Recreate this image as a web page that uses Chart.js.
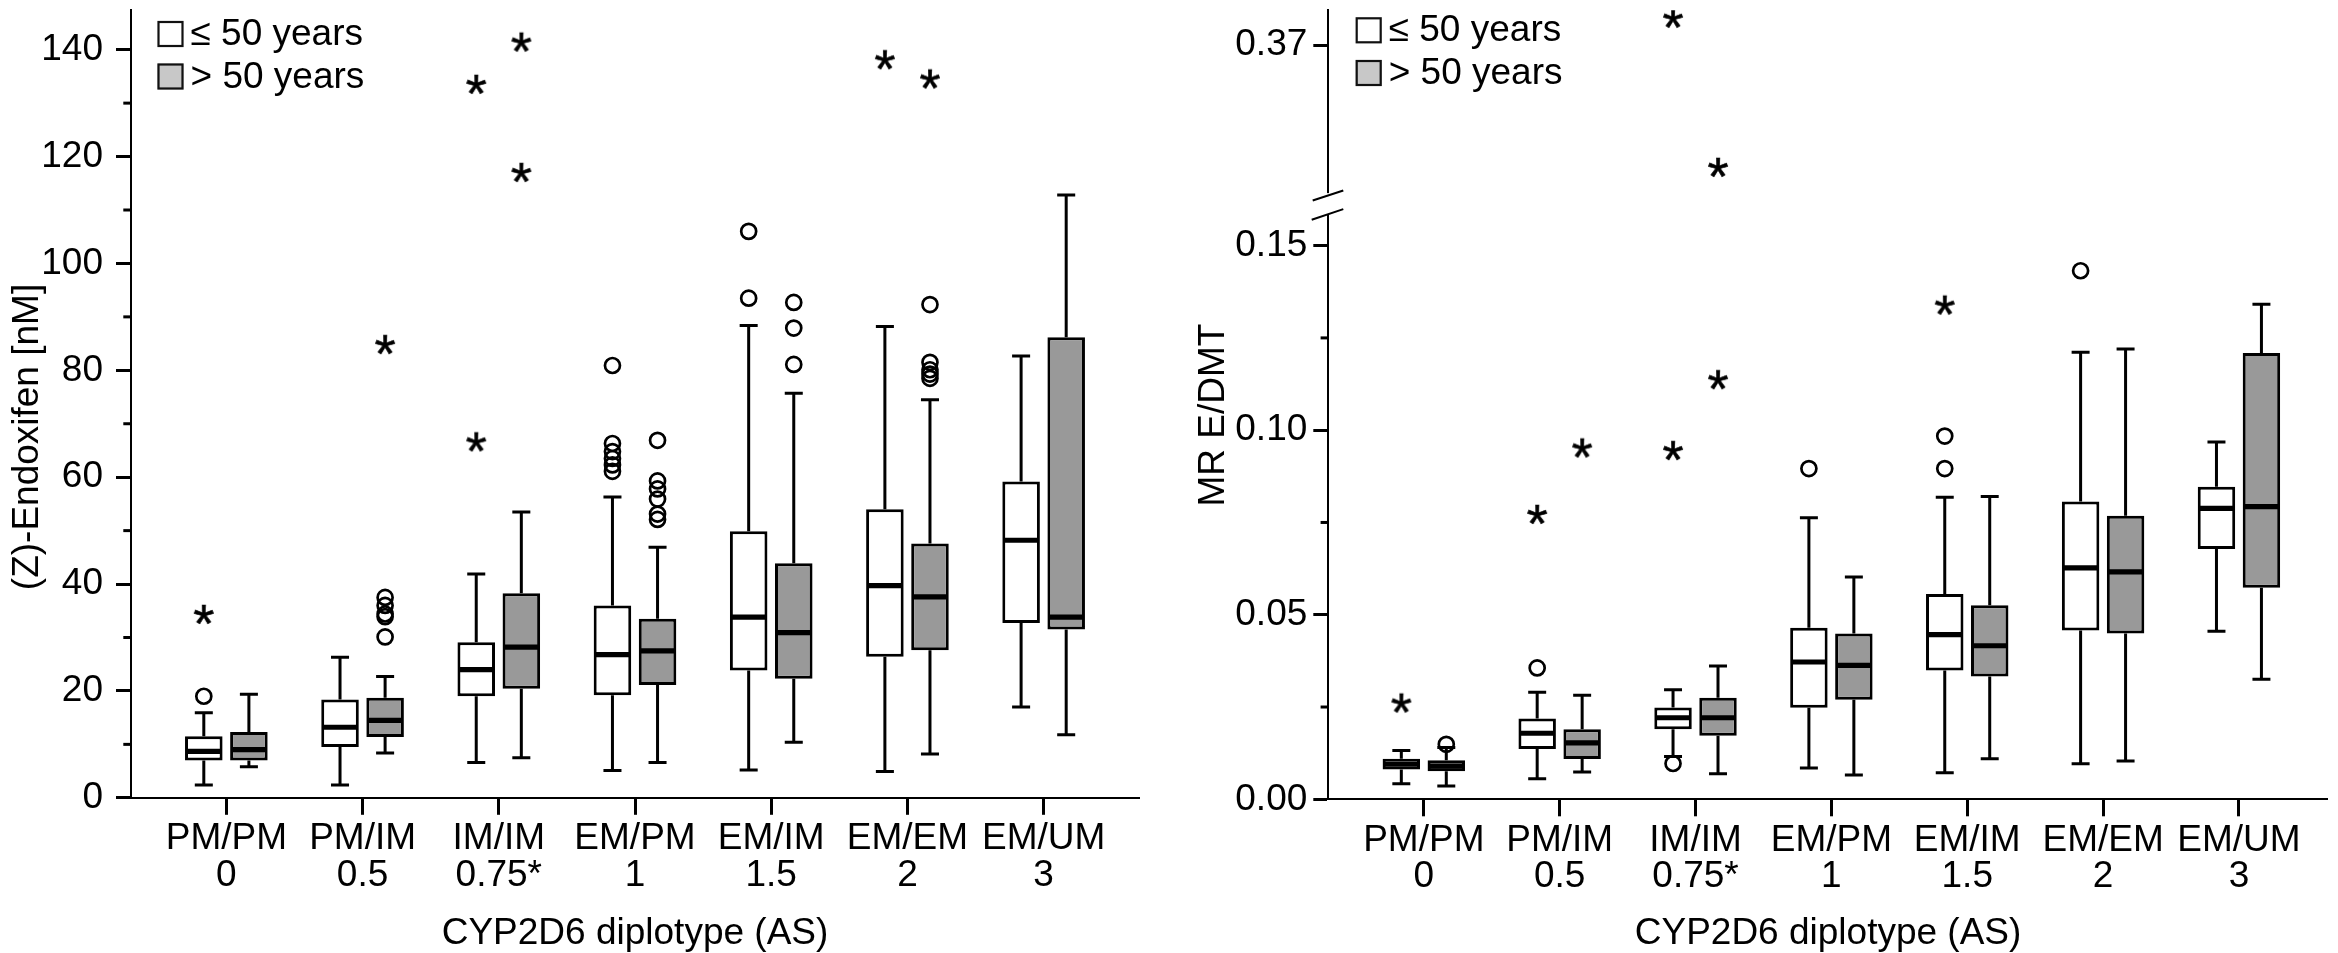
<!DOCTYPE html>
<html>
<head>
<meta charset="utf-8">
<script src="https://cdn.jsdelivr.net/npm/chart.js@4.4.1/dist/chart.umd.min.js"></script>
<style>
  html, body { margin: 0; padding: 0; background: #fff; }
  #wrap { position: relative; width: 2338px; height: 953px; }
  canvas { position: absolute; top: 0; width: 1169px; height: 953px; }
  #endoxifenChart { left: 0; }
  #ratioChart { left: 1169px; }
</style>
</head>
<body>
<div id="wrap">
  <canvas id="endoxifenChart" width="1169" height="953"></canvas>
  <canvas id="ratioChart" width="1169" height="953"></canvas>
</div>
<script>
const diplotypes     = ['PM/PM', 'PM/IM', 'IM/IM', 'EM/PM', 'EM/IM', 'EM/EM', 'EM/UM'];
const activityScores = ['0', '0.5', '0.75*', '1', '1.5', '2', '3'];
const ageGroups      = ['\u2264 50 years', '> 50 years'];

// per diplotype: [lower whisker, Q1, median, Q3, upper whisker]
const endoxifenYoung = [
  [2.4, 7.0, 8.7, 11.5, 15.9],
  [2.4, 9.5, 13.2, 18.4, 26.3],
  [6.6, 19.0, 24.0, 29.1, 41.9],
  [5.1, 19.2, 26.8, 36.0, 56.3],
  [5.2, 23.8, 33.8, 49.9, 88.4],
  [4.9, 26.4, 39.7, 54.0, 88.2],
  [17.0, 32.7, 48.2, 59.2, 82.7]
];
const endoxifenOld = [
  [5.8, 7.0, 9.0, 12.3, 19.4],
  [8.4, 11.4, 14.5, 18.7, 22.7],
  [7.5, 20.4, 28.2, 38.3, 53.5],
  [6.6, 21.1, 27.5, 33.5, 46.9],
  [10.4, 22.3, 30.9, 43.9, 75.7],
  [8.2, 27.6, 37.6, 47.6, 74.5],
  [11.8, 31.5, 33.8, 86.2, 112.8]
];
const endoxifenYoungOutliers = [[19.0], [], [], [61.1, 62.3, 63.5, 64.8, 66.3, 80.9], [93.5, 106.0], [], []];
const endoxifenYoungExtremes = [[34.4], [], [66.7, 133.6], [], [], [138.2], []];
const endoxifenOldOutliers   = [[], [30.1, 33.9, 34.4, 36.0, 37.5], [], [52.1, 53.1, 55.9, 57.8, 59.3, 66.9], [81.1, 87.9, 92.7], [78.5, 79.3, 80.1, 81.5, 92.3], []];
const endoxifenOldExtremes   = [[], [84.9], [117.1, 141.5], [], [], [134.6], []];
const endoxifenTicks      = [0, 20, 40, 60, 80, 100, 120, 140];
const endoxifenMinorTicks = [10, 30, 50, 70, 90, 110, 130];

const ratioYoung = [
  [0.0042, 0.0081, 0.0095, 0.0110, 0.0132],
  [0.0056, 0.0136, 0.0179, 0.0219, 0.0290],
  [0.0116, 0.0190, 0.0221, 0.0249, 0.0297],
  [0.0085, 0.0248, 0.0372, 0.0465, 0.0763],
  [0.0072, 0.0349, 0.0446, 0.0556, 0.0818],
  [0.0096, 0.0457, 0.0627, 0.0807, 0.1211],
  [0.0455, 0.0678, 0.0788, 0.0847, 0.0968]
];
const ratioOld = [
  [0.0036, 0.0076, 0.0090, 0.0106, 0.0140],
  [0.0074, 0.0109, 0.0153, 0.0190, 0.0282],
  [0.0069, 0.0172, 0.0221, 0.0275, 0.0361],
  [0.0066, 0.0270, 0.0363, 0.0449, 0.0602],
  [0.0110, 0.0333, 0.0416, 0.0526, 0.0820],
  [0.0104, 0.0449, 0.0616, 0.0768, 0.1220],
  [0.0325, 0.0573, 0.0793, 0.1209, 0.1341]
];
const ratioYoungOutliers = [[], [0.0356], [0.0097], [0.0896], [0.0896, 0.0984], [0.1432], []];
const ratioYoungExtremes = [[0.0262], [0.0773], [0.0946, 0.3774], [], [0.1340], [], []];
const ratioOldOutliers   = [[0.0149], [], [], [], [], [], []];
const ratioOldExtremes   = [[], [0.0953], [0.1138, 0.3370], [], [], [], []];
const ratioTicksLow      = [0, 0.05, 0.10, 0.15];
const ratioMinorTicksLow = [0.025, 0.075, 0.125];
const ratioTicksHigh     = [0.37];

const FONT = "'Liberation Sans', Arial, sans-serif";
const TEXT_SIZE = 37;
Chart.defaults.font.family = FONT;
Chart.defaults.font.size = TEXT_SIZE;
Chart.defaults.color = '#000';

const BOX_FILL    = ['#ffffff', '#999999'];
const LEGEND_FILL = ['#ffffff', '#c8c8c8'];
const CAT_PCT = 0.662;
const BAR_PCT = 0.833;
const groupShift = [-CAT_PCT / 4, CAT_PCT / 4];

// the "*" glyph used for extreme values
function starGlyph() {
  const c = document.createElement('canvas');
  c.width = c.height = 34;
  const g = c.getContext('2d');
  g.font = '54px ' + FONT;
  g.fillStyle = '#000';
  g.strokeStyle = '#000';
  g.lineWidth = 0.6;
  g.textAlign = 'center';
  const m = g.measureText('*');
  const base = 17 + (m.actualBoundingBoxAscent - m.actualBoundingBoxDescent) / 2;
  g.fillText('*', 17, base);
  g.strokeText('*', 17, base);
  return c;
}
const STAR = starGlyph();

function pointSet(values, group, style, axisId, keep) {
  const pts = [];
  values.forEach((vals, i) => vals.forEach(v => {
    if (keep(v)) pts.push({x: i + groupShift[group], y: v});
  }));
  return {
    type: 'scatter',
    data: pts,
    yAxisID: axisId,
    pointStyle: style,
    pointRadius: 7.5,
    borderWidth: 2.7,
    borderColor: '#000',
    backgroundColor: 'rgba(0,0,0,0)'
  };
}

function buildDatasets(stats, outliers, extremes, lowAxis, highAxis, split) {
  const sets = stats.map((s, g) => ({
    type: 'bar',
    label: ageGroups[g],
    stats: s,
    legendFill: LEGEND_FILL[g],
    data: s.map((b, i) => ({x: i, y: [b[1], b[3]]})),
    yAxisID: lowAxis,
    backgroundColor: BOX_FILL[g],
    borderColor: '#000',
    borderWidth: 3,
    borderSkipped: false,
    categoryPercentage: CAT_PCT,
    barPercentage: BAR_PCT
  }));
  [0, 1].forEach(g => {
    sets.push(pointSet(outliers[g], g, 'circle', lowAxis, v => v <= split));
    sets.push(pointSet(extremes[g], g, STAR, lowAxis, v => v <= split));
    if (highAxis) {
      sets.push(pointSet(outliers[g], g, 'circle', highAxis, v => v > split));
      sets.push(pointSet(extremes[g], g, STAR, highAxis, v => v > split));
    }
  });
  return sets;
}

const boxPlotPlugin = {
  id: 'boxPlot',
  beforeDatasetsDraw(chart) {
    const ctx = chart.ctx;
    ctx.save();
    ctx.strokeStyle = '#000';
    ctx.lineWidth = 3;
    chart.data.datasets.forEach((ds, d) => {
      if (!ds.stats) return;
      const meta = chart.getDatasetMeta(d);
      const y = chart.scales[meta.yAxisID];
      meta.data.forEach((bar, i) => {
        const [lo, q1, , q3, hi] = ds.stats[i];
        const half = bar.width * 0.24;
        ctx.beginPath();
        [[lo, q1], [hi, q3]].forEach(([end, edge]) => {
          const pe = y.getPixelForValue(end);
          ctx.moveTo(bar.x, y.getPixelForValue(edge));
          ctx.lineTo(bar.x, pe);
          ctx.moveTo(bar.x - half, pe);
          ctx.lineTo(bar.x + half, pe);
        });
        ctx.stroke();
      });
    });
    ctx.restore();
  },
  afterDatasetsDraw(chart) {
    const ctx = chart.ctx;
    ctx.save();
    ctx.strokeStyle = '#000';
    ctx.lineWidth = 5.2;
    chart.data.datasets.forEach((ds, d) => {
      if (!ds.stats) return;
      const meta = chart.getDatasetMeta(d);
      const y = chart.scales[meta.yAxisID];
      meta.data.forEach((bar, i) => {
        const pm = y.getPixelForValue(ds.stats[i][2]);
        ctx.beginPath();
        ctx.moveTo(bar.x - bar.width / 2 + 1, pm);
        ctx.lineTo(bar.x + bar.width / 2 - 1, pm);
        ctx.stroke();
      });
    });
    ctx.restore();
  },
  afterDraw(chart, args, opts) {
    const ctx = chart.ctx;
    const area = chart.chartArea;
    ctx.save();
    ctx.strokeStyle = '#000';

    // minor ticks
    ctx.lineWidth = 3;
    (opts.minor || []).forEach(m => {
      const s = chart.scales[m.axis];
      m.values.forEach(v => {
        const p = s.getPixelForValue(v);
        ctx.beginPath();
        ctx.moveTo(s.right - 7.7, p);
        ctx.lineTo(s.right, p);
        ctx.stroke();
      });
    });

    // axis break
    if (opts.breakAxis) {
      const b = chart.scales[opts.breakAxis].bottom;
      const ax = area.left;
      ctx.fillStyle = '#fff';
      ctx.fillRect(ax - 3, b - 11.3, 6, 21.6);
      ctx.lineWidth = 2;
      ctx.beginPath();
      ctx.moveTo(ax - 15.6, b - 4);
      ctx.lineTo(ax + 15, b - 14);
      ctx.moveTo(ax - 16.6, b + 15.3);
      ctx.lineTo(ax + 15, b + 4.7);
      ctx.stroke();
    }

    // legend
    const lg = opts.legend;
    ctx.font = TEXT_SIZE + 'px ' + FONT;
    ctx.textBaseline = 'alphabetic';
    ctx.textAlign = 'left';
    let row = 0;
    chart.data.datasets.forEach(ds => {
      if (!ds.stats) return;
      const x = area.left + lg.dx;
      const y = lg.top + row * lg.step;
      ctx.fillStyle = ds.legendFill;
      ctx.fillRect(x, y, 26, 26);
      ctx.lineWidth = 2.2;
      ctx.strokeStyle = '#111';
      ctx.strokeRect(x + 1, y + 1, 24, 24);
      ctx.fillStyle = '#000';
      ctx.fillText(ds.label, x + 33, y + 24);
      row++;
    });

    // y axis title
    const t = opts.title;
    ctx.translate(t.x, t.y);
    ctx.rotate(-Math.PI / 2);
    ctx.textAlign = 'center';
    ctx.fillStyle = '#000';
    ctx.fillText(t.text, 0, 0);
    ctx.restore();
  }
};

function diplotypeAxis(min, max, height) {
  return {
    type: 'linear',
    position: 'bottom',
    min: min,
    max: max,
    offset: false,
    afterBuildTicks: s => { s.ticks = diplotypes.map((_, i) => ({value: i})); },
    afterFit: s => { s.height = height; s.paddingLeft = 0; s.paddingRight = 0; },
    ticks: {
      callback: v => [diplotypes[v], activityScores[v]],
      autoSkip: false, maxRotation: 0, minRotation: 0,
      padding: 6, color: '#000',
      font: {size: TEXT_SIZE, lineHeight: 36.5 / TEXT_SIZE}
    },
    grid: {drawOnChartArea: false, offset: false, tickLength: 17, tickWidth: 3, tickColor: '#000'},
    border: {color: '#000', width: 2},
    title: {
      display: true, text: 'CYP2D6 diplotype (AS)', color: '#000',
      font: {size: TEXT_SIZE, lineHeight: 1}, padding: {top: 0, bottom: 1}
    }
  };
}

function valueAxis(cfg) {
  return Object.assign({
    type: 'linear',
    position: 'left',
    ticks: {padding: cfg.pad, color: '#000', font: {size: TEXT_SIZE}, callback: cfg.fmt},
    grid: {drawOnChartArea: false, tickLength: 15, tickWidth: 3, tickColor: '#000'},
    border: {color: '#000', width: 2},
    afterBuildTicks: s => { s.ticks = cfg.ticks.map(v => ({value: v})); },
    afterFit: s => { s.width = cfg.width; s.paddingTop = 0; s.paddingBottom = 0; }
  }, cfg.extra);
}

const common = {
  responsive: false,
  devicePixelRatio: 1,
  animation: false,
  events: []
};

new Chart(document.getElementById('endoxifenChart'), {
  type: 'bar',
  data: {
    datasets: buildDatasets([endoxifenYoung, endoxifenOld],
      [endoxifenYoungOutliers, endoxifenOldOutliers],
      [endoxifenYoungExtremes, endoxifenOldExtremes], 'y', null, Infinity)
  },
  options: Object.assign({}, common, {
    layout: {padding: {top: 8, right: 30, bottom: 0, left: 0}},
    scales: {
      x: diplotypeAxis(-0.7, 6.7, 155.2),
      y: valueAxis({ticks: endoxifenTicks, width: 131, pad: 13, fmt: v => String(v),
        extra: {min: 0, max: 147.39}})
    },
    plugins: {
      legend: {display: false},
      tooltip: {enabled: false},
      boxPlot: {
        minor: [{axis: 'y', values: endoxifenMinorTicks}],
        legend: {dx: 26.5, top: 21, step: 42.5},
        title: {text: '(Z)-Endoxifen [nM]', x: 38, y: 437}
      }
    }
  }),
  plugins: [boxPlotPlugin]
});

const LOW_MAX = 0.16116;
new Chart(document.getElementById('ratioChart'), {
  type: 'bar',
  data: {
    datasets: buildDatasets([ratioYoung, ratioOld],
      [ratioYoungOutliers, ratioOldOutliers],
      [ratioYoungExtremes, ratioOldExtremes], 'yLow', 'yHigh', LOW_MAX)
  },
  options: Object.assign({}, common, {
    layout: {padding: {top: 8.3, right: 8, bottom: 0, left: 0}},
    scales: {
      x: diplotypeAxis(-0.703, 6.654, 153.7),
      yLow: valueAxis({ticks: ratioTicksLow, width: 159.3, pad: 6, fmt: v => v.toFixed(2),
        extra: {min: 0, max: LOW_MAX, stack: 'ratio', stackWeight: 596.3}}),
      yHigh: valueAxis({ticks: ratioTicksHigh, width: 159.3, pad: 6, fmt: v => v.toFixed(2),
        extra: {min: 0.32684, max: 0.379459, stack: 'ratio', stackWeight: 194.7}})
    },
    plugins: {
      legend: {display: false},
      tooltip: {enabled: false},
      boxPlot: {
        minor: [{axis: 'yLow', values: ratioMinorTicksLow}],
        breakAxis: 'yHigh',
        legend: {dx: 27.4, top: 17.3, step: 42.7},
        title: {text: 'MR E/DMT', x: 55, y: 415}
      }
    }
  }),
  plugins: [boxPlotPlugin]
});
</script>
</body>
</html>
